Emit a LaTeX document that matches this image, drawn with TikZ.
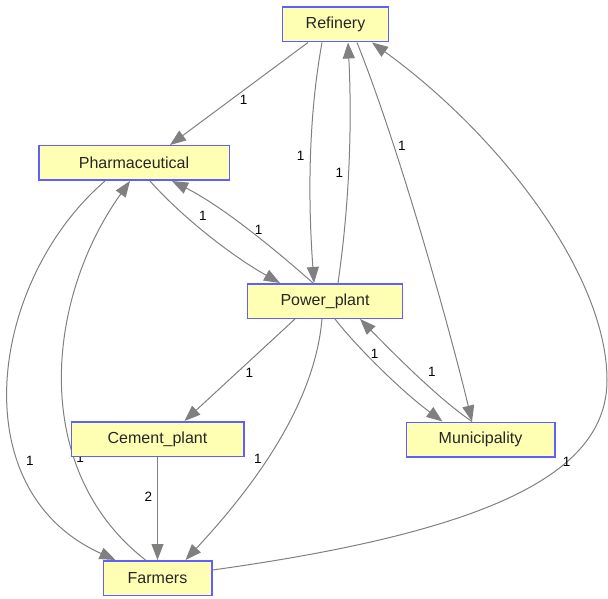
\documentclass[tikz,border=0pt]{standalone}
\usepackage{fontspec}
\setmainfont{Liberation Sans}
\usetikzlibrary{calc,arrows.meta}
\pgfdeclarelayer{background}
\pgfsetlayers{background,main}
\definecolor{boxfill}{RGB}{255,255,180}
\definecolor{boxline}{RGB}{95,95,255}
\definecolor{edgegray}{RGB}{128,128,128}

\begin{document}
\begin{tikzpicture}[x=1pt,y=-1pt,
  box/.style={draw=boxline,fill=boxfill,line width=1.5pt,minimum height=34.5pt,
              inner sep=0pt,text=black!85,font=\fontsize{16}{19}\selectfont},
  flow/.style={draw=edgegray,line width=1pt,-{Triangle[length=16pt,width=12pt]}},
  lbl/.style={inner sep=0pt,text=black,font=\fontsize{13.5}{15}\selectfont}]

  \useasboundingbox (0,0) rectangle (608,599);

  \node[box,minimum width=106pt] at (335.5,24.5) (ref) {Refinery};
  \node[box,minimum width=190.5pt] at (134,163) (pha) {Pharmaceutical};
  \node[box,minimum width=155pt] at (325,301) (pow) {Power\_plant};
  \node[box,minimum width=172.5pt] at (157.5,439) (cem) {Cement\_plant};
  \node[box,minimum width=148.5pt] at (480.5,439.5) (mun) {Municipality};
  \node[box,minimum width=108.5pt] at (157.5,578) (far) {Farmers};

  % edges go under the boxes
  \begin{pgfonlayer}{background}
  % from Refinery
  \draw[flow] ($(ref.south)+(-27.5,0)$) -- ($(pha.north)+(36,0)$)
        node[lbl,pos=0.56,xshift=13pt] {1};
  \draw[flow] ($(ref.south)+(-13.5,0)$) .. controls (308,120) and (308,200) .. ($(pow.north)+(-11,0)$)
        node[lbl,pos=0.48,xshift=-10pt] {1};
  \draw[flow] ($(ref.south)+(21.5,0)$) .. controls (400,150) and (450,330) .. ($(mun.north)+(-8.5,0)$)
        node[lbl,pos=0.28,xshift=8pt] {1};
  % from Pharmaceutical
  \draw[flow] ($(pha.south)+(16,0)$) .. controls (180,215) and (230,255) .. ($(pow.north)+(-45,0)$)
        node[lbl,pos=0.45,xshift=2pt,yshift=13pt] {1};
  \draw[flow] ($(pha.south)+(-29,0)$) .. controls (-10,280) and (-40,490) .. ($(far.north)+(-42,0)$)
        node[lbl,pos=0.7,xshift=7pt,yshift=5pt] {1};
  % from Power_plant
  \draw[flow] ($(pow.north)+(13,0)$) .. controls (350,200) and (352,120) .. ($(ref.south)+(12.5,0)$)
        node[lbl,pos=0.45,xshift=-9pt] {1};
  \draw[flow] ($(pow.north)+(-12,0)$) .. controls (270,245) and (220,205) .. ($(pha.south)+(38,0)$)
        node[lbl,pos=0.4,yshift=8pt] {1};
  \draw[flow] ($(pow.south)+(-30,0)$) -- ($(cem.north)+(27,0)$)
        node[lbl,pos=0.53,xshift=13pt] {1};
  \draw[flow] ($(pow.south)+(-3,0)$) .. controls (315,400) and (260,480) .. ($(far.north)+(28,0)$)
        node[lbl,pos=0.58,xshift=-9pt] {1};
  \draw[flow] ($(pow.south)+(10,0)$) .. controls (355,345) and (400,390) .. ($(mun.north)+(-38,0)$)
        node[lbl,pos=0.45,yshift=9pt] {1};
  % from Municipality
  \draw[flow] ($(mun.north)+(-8.5,0)$) .. controls (440,400) and (395,355) .. ($(pow.south)+(35,0)$)
        node[lbl,pos=0.4,xshift=3pt,yshift=15pt] {1};
  % from Cement_plant
  \draw[flow] (cem.south) -- (far.north)
        node[lbl,pos=0.39,xshift=-9pt] {2};
  % from Farmers
  \draw[flow] ($(far.north)+(-12,0)$) .. controls (30,470) and (45,300) .. ($(pha.south)+(-4,0)$)
        node[lbl,pos=0.3,xshift=5pt,yshift=3pt] {1};
  \draw[flow] ($(far.east)+(0,-8)$) .. controls (500,530) and (607,470) .. (607,380)
        node[lbl,pos=0.68,xshift=-5pt,yshift=-4pt] {1}
        .. controls (607,275) and (500,135) .. ($(ref.south)+(36.5,0)$);
  \end{pgfonlayer}

\end{tikzpicture}
\end{document}
